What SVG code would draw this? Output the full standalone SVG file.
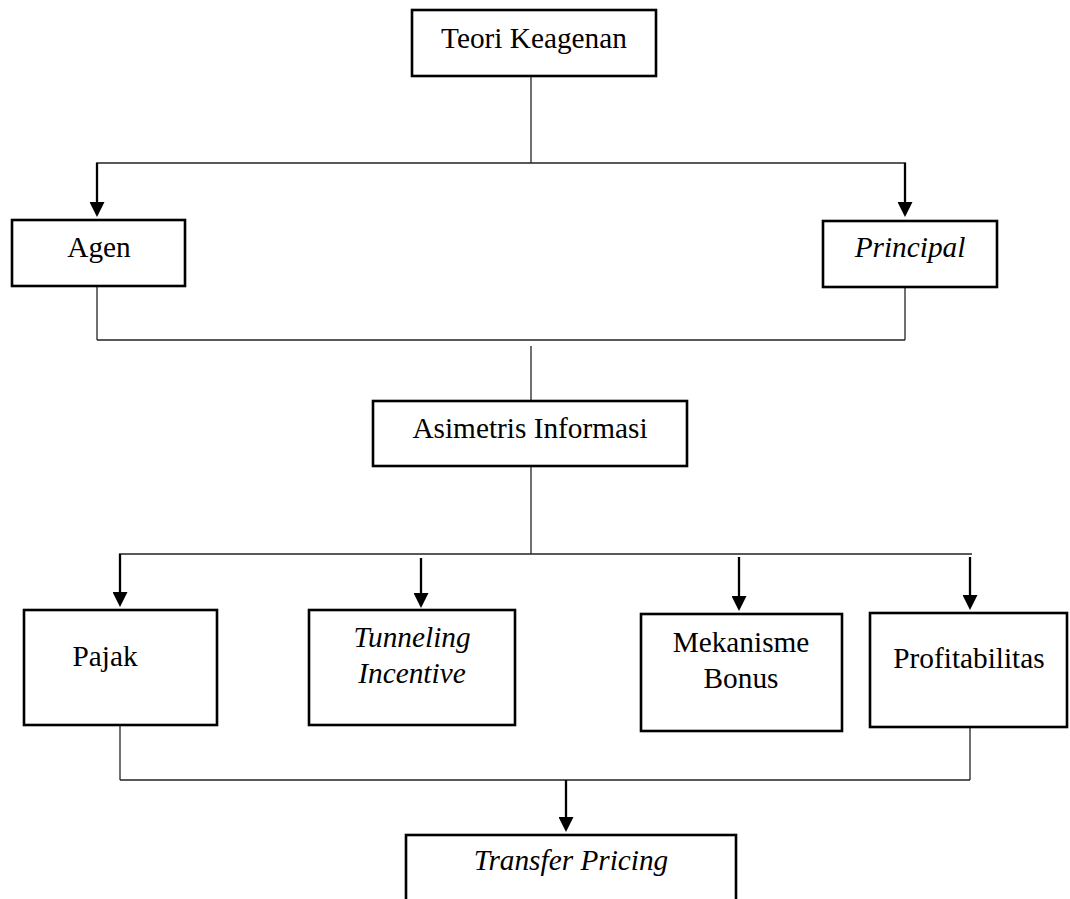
<svg xmlns="http://www.w3.org/2000/svg" width="1070" height="899" viewBox="0 0 1070 899">
<style>
.box{fill:#fff;stroke:#000;stroke-width:2.6}
.t{font-family:"Liberation Serif","Times New Roman",serif;font-size:29.3px;fill:#000;text-anchor:middle}
.i{font-style:italic}
.ln{stroke:#111;stroke-width:1.2;fill:none}
.hz{stroke:#222;stroke-width:1.6;fill:none}
.ar{stroke:#000;stroke-width:2.3;fill:none;marker-end:url(#ah)}
</style>
<defs>
<marker id="ah" markerUnits="userSpaceOnUse" markerWidth="15" markerHeight="15" viewBox="0 0 15 15" refX="0" refY="7.5" orient="auto">
<path d="M0,0 L15,7.5 L0,15 z" fill="#000"/>
</marker>
</defs>
<rect width="1070" height="899" fill="#fff"/>
<g id="connectors">
<line class="ln" x1="531" y1="77" x2="531" y2="163"/>
<line class="hz" x1="96" y1="163" x2="906" y2="163"/>
<line class="ar" x1="97" y1="163" x2="97" y2="202"/>
<line class="ar" x1="905" y1="163" x2="905" y2="202"/>
<line class="ln" x1="97" y1="287" x2="97" y2="340"/>
<line class="ln" x1="905" y1="287" x2="905" y2="340"/>
<line class="hz" x1="97" y1="340" x2="905" y2="340"/>
<line class="ln" x1="531" y1="346" x2="531" y2="400"/>
<line class="ln" x1="531" y1="467" x2="531" y2="554"/>
<line class="hz" x1="119" y1="554" x2="972" y2="554"/>
<line class="ar" x1="120" y1="554" x2="120" y2="592"/>
<line class="ar" x1="421" y1="558" x2="421" y2="593"/>
<line class="ar" x1="739" y1="557" x2="739" y2="596"/>
<line class="ar" x1="970" y1="557" x2="970" y2="595"/>
<line class="ln" x1="120" y1="725" x2="120" y2="780"/>
<line class="ln" x1="970" y1="725" x2="970" y2="780"/>
<line class="hz" x1="120" y1="780" x2="970" y2="780"/>
<line class="ar" x1="566" y1="780" x2="566" y2="817"/>
</g>
<g id="teori-keagenan">
<rect class="box" x="412" y="10" width="244" height="66"/>
<text class="t" x="534" y="48">Teori Keagenan</text>
</g>
<g id="agen">
<rect class="box" x="12" y="220" width="173" height="66"/>
<text class="t" x="99" y="257">Agen</text>
</g>
<g id="principal">
<rect class="box" x="823" y="221" width="174" height="66"/>
<text class="t i" x="910" y="257">Principal</text>
</g>
<g id="asimetris-informasi">
<rect class="box" x="373" y="401" width="314" height="65"/>
<text class="t" x="530" y="438">Asimetris Informasi</text>
</g>
<g id="pajak">
<rect class="box" x="24" y="610" width="193" height="115"/>
<text class="t" x="105" y="666">Pajak</text>
</g>
<g id="tunneling-incentive">
<rect class="box" x="309" y="610" width="206" height="115"/>
<text class="t i" x="412" y="647">Tunneling</text>
<text class="t i" x="412" y="683">Incentive</text>
</g>
<g id="mekanisme-bonus">
<rect class="box" x="641" y="614" width="201" height="117"/>
<text class="t" x="741" y="652">Mekanisme</text>
<text class="t" x="741" y="688">Bonus</text>
</g>
<g id="profitabilitas">
<rect class="box" x="870" y="613" width="197" height="114"/>
<text class="t" x="969" y="668">Profitabilitas</text>
</g>
<g id="transfer-pricing">
<rect class="box" x="406" y="835" width="330" height="80"/>
<text class="t i" x="571" y="870">Transfer Pricing</text>
</g>
</svg>
